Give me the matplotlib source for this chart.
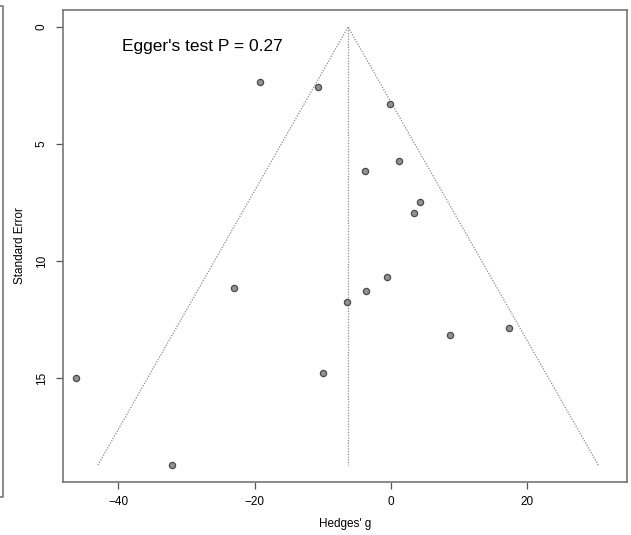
import numpy as np
import matplotlib
matplotlib.use('Agg')
import matplotlib.pyplot as plt
from matplotlib.lines import Line2D

plt.rcParams['font.family'] = ['Liberation Sans', 'DejaVu Sans']

# estudos: efeito (Hedges' g) e erro padrao
hedges_g = [-19.2, -10.7, -0.15, 1.2, -3.8, 4.25, 3.4, -23.0, -0.6,
            -3.7, -6.45, 8.6, 17.3, -10.0, -46.2, -32.1]
erro_padrao = [2.35, 2.56, 3.29, 5.73, 6.15, 7.48, 7.95, 11.15, 10.68,
               11.28, 11.75, 13.16, 12.86, 14.79, 15.0, 18.72]
efeito_medio = -6.3
x_ticks = [-40, -20, 0, 20]
y_ticks = [0, 5, 10, 15]
texto_egger = "Egger's test P = 0.27"

fig = plt.figure(figsize=(6.31, 5.35), dpi=100)
ax = fig.add_axes([63 / 631, 1 - 482 / 535, 564 / 631, 472 / 535])

# funil
se_max = max(erro_padrao)
se = np.array([0, se_max])
cinza = '#8c8c8c'
ax.plot(efeito_medio - 1.96 * se, se, linestyle=(0, (1, 1.2)), color=cinza, lw=0.9)
ax.plot(efeito_medio + 1.96 * se, se, linestyle=(0, (1, 1.2)), color=cinza, lw=0.9)
ax.plot([efeito_medio, efeito_medio], [0, se_max], linestyle=(0, (1, 1.2)), color=cinza, lw=0.9)

ax.scatter(hedges_g, erro_padrao, s=20, facecolor='#929292', edgecolor='#4a4a4a',
           linewidths=0.9, zorder=3)

ax.text(-39.5, 0.85, texto_egger, fontsize=12.5, va='center', ha='left')

ax.set_xlim(-48.1, 34.6)
ax.set_ylim(19.44, -0.73)
ax.set_xticks(x_ticks)
ax.set_xticklabels(['\u221240', '\u221220', '0', '20'])
ax.set_yticks(y_ticks)
ax.set_yticklabels([str(v) for v in y_ticks], rotation=90, va='center')
ax.tick_params(axis='both', direction='out', length=5, width=0.9, color='#555555',
               labelsize=8.5)
ax.tick_params(axis='x', pad=5)
ax.tick_params(axis='y', pad=6)
for s in ax.spines.values():
    s.set_color('#777777')
    s.set_linewidth(1.2)
ax.set_xlabel("Hedges' g", fontsize=8.5, labelpad=7)
ax.set_ylabel('Standard Error', fontsize=8.5, labelpad=7)

# borda do painel vizinho
fx = 3 / 631
fig.add_artist(Line2D([0, fx, fx, 0], [1 - 6 / 535, 1 - 6 / 535, 1 - 497 / 535, 1 - 497 / 535],
                      color='#777777', lw=1.2))

fig.savefig('out.png', dpi=100)
